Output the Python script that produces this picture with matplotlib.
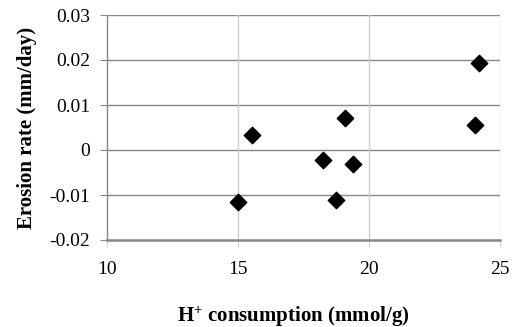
import matplotlib
matplotlib.use('Agg')
import matplotlib.pyplot as plt

h_consumption = [15.0, 15.53, 18.24, 18.74, 19.08, 19.39, 24.05, 24.2]
erosion_rate = [-0.0116, 0.0034, -0.0023, -0.0112, 0.0071, -0.0031, 0.0056, 0.0193]

x_ticks = [10, 15, 20, 25]
y_ticks = [-0.02, -0.01, 0, 0.01, 0.02, 0.03]
y_tick_labels = ['-0.02', '-0.01', '0', '0.01', '0.02', '0.03']

plt.rcParams['font.family'] = 'Liberation Serif'
plt.rcParams['mathtext.fontset'] = 'custom'
plt.rcParams['mathtext.rm'] = 'Liberation Serif:bold'
plt.rcParams['mathtext.it'] = 'Liberation Serif:bold'
plt.rcParams['mathtext.bf'] = 'Liberation Serif:bold'

fig = plt.figure(figsize=(5.14, 3.27), dpi=100)
ax = fig.add_axes([107 / 514, 1 - 240 / 327, (500 - 107) / 514, (240 - 15) / 327])

ax.set_xlim(10, 25)
ax.set_ylim(-0.02, 0.03)
ax.set_xticks(x_ticks)
ax.set_yticks(y_ticks)
ax.set_yticklabels(y_tick_labels)

# gridlines: dark horizontal, light vertical
for y in y_ticks[1:]:
    ax.axhline(y, color='#878787', lw=1.0, zorder=1)
for x in x_ticks[1:]:
    ax.axvline(x, color='#d0d0d0', lw=1.0, zorder=1)

for s in ['top', 'right']:
    ax.spines[s].set_visible(False)
ax.spines['left'].set_color('#878787')
ax.spines['left'].set_linewidth(1.0)
ax.spines['bottom'].set_color('#878787')
ax.spines['bottom'].set_linewidth(1.8)

ax.tick_params(axis='y', direction='out', length=5, color='#878787', labelsize=14, pad=7)
ax.tick_params(axis='x', direction='out', length=5, color='#d0d0d0', labelsize=14, pad=10)

ax.scatter(h_consumption, erosion_rate, marker='D', s=70, color='black', zorder=3)

ax.set_xlabel('H$^{+}$ consumption (mmol/g)', fontsize=15, fontweight='bold')
ax.xaxis.set_label_coords(0.474, -0.285)
ax.set_ylabel('Erosion rate (mm/day)', fontsize=15, fontweight='bold', labelpad=9)

fig.savefig('out.png', dpi=100)
